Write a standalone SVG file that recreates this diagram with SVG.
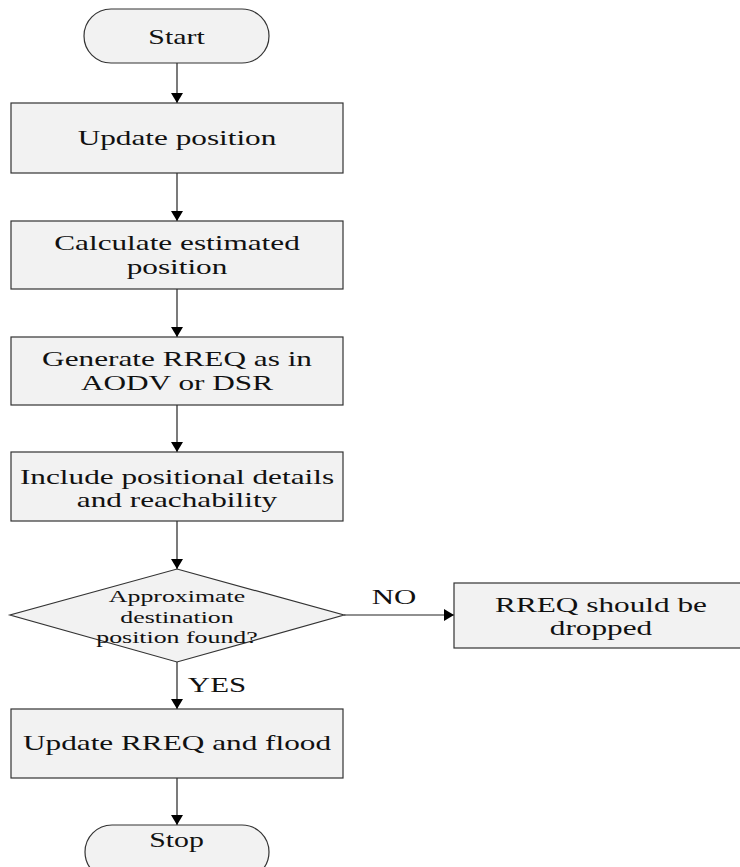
<svg xmlns="http://www.w3.org/2000/svg" width="740" height="867" viewBox="0 0 740 867">
  <style>
    .shape { fill: #f2f2f2; stroke: #333333; stroke-width: 1.2; }
    .edge { fill: none; stroke: #222222; stroke-width: 1.2; }
    .t { font-family: "Liberation Serif", "Times New Roman", serif; font-size: 20.3px; fill: #111111; text-anchor: middle; }
    .s { font-size: 17px; }
  </style>
  <defs>
    <marker id="arrow" markerUnits="userSpaceOnUse" markerWidth="10" markerHeight="12" refX="10" refY="6" orient="auto">
      <path d="M0,0 L10,6 L0,12 z" fill="#000000"/>
    </marker>
  </defs>
  <rect width="740" height="867" fill="#ffffff"/>

  <g id="connectors">
    <line class="edge" x1="177" y1="63" x2="177" y2="103" marker-end="url(#arrow)"/>
    <line class="edge" x1="177" y1="173" x2="177" y2="221" marker-end="url(#arrow)"/>
    <line class="edge" x1="177" y1="289" x2="177" y2="337" marker-end="url(#arrow)"/>
    <line class="edge" x1="177" y1="405" x2="177" y2="452" marker-end="url(#arrow)"/>
    <line class="edge" x1="177" y1="521" x2="177" y2="569" marker-end="url(#arrow)"/>
    <line class="edge" x1="344" y1="615" x2="454" y2="615" marker-end="url(#arrow)"/>
    <line class="edge" x1="177" y1="662" x2="177" y2="709" marker-end="url(#arrow)"/>
    <line class="edge" x1="177" y1="778" x2="177" y2="825" marker-end="url(#arrow)"/>
    <text class="t" transform="translate(394,604) scale(1.52,1)">NO</text>
    <text class="t" transform="translate(217,692) scale(1.52,1)">YES</text>
  </g>

  <g id="start">
    <rect class="shape" x="84" y="9" width="185" height="54" rx="27" ry="27"/>
    <text class="t" transform="translate(176.5,43.5) scale(1.47,1)">Start</text>
  </g>

  <g id="update-position">
    <rect class="shape" x="11" y="103" width="332" height="70"/>
    <text class="t" transform="translate(177,144.5) scale(1.54,1)">Update position</text>
  </g>

  <g id="calculate-position">
    <rect class="shape" x="11" y="221" width="332" height="68"/>
    <text class="t" transform="translate(177,250) scale(1.54,1)">Calculate estimated</text>
    <text class="t" transform="translate(177,273.5) scale(1.54,1)">position</text>
  </g>

  <g id="generate-rreq">
    <rect class="shape" x="11" y="337" width="332" height="68"/>
    <text class="t" transform="translate(177,366) scale(1.54,1)">Generate RREQ as in</text>
    <text class="t" transform="translate(177,389.5) scale(1.54,1)">AODV or DSR</text>
  </g>

  <g id="include-details">
    <rect class="shape" x="11" y="452" width="332" height="69"/>
    <text class="t" transform="translate(177,484) scale(1.54,1)">Include positional details</text>
    <text class="t" transform="translate(177,507) scale(1.54,1)">and reachability</text>
  </g>

  <g id="decision">
    <polygon class="shape" points="177,569 344,615 177,662 10,615"/>
    <text class="t s" transform="translate(177,602) scale(1.52,1)">Approximate</text>
    <text class="t s" transform="translate(177,623) scale(1.52,1)">destination</text>
    <text class="t s" transform="translate(177,643) scale(1.52,1)">position found?</text>
  </g>

  <g id="dropped">
    <rect class="shape" x="454" y="583" width="290" height="65"/>
    <text class="t" transform="translate(601,611.5) scale(1.54,1)">RREQ should be</text>
    <text class="t" transform="translate(601,635) scale(1.54,1)">dropped</text>
  </g>

  <g id="update-flood">
    <rect class="shape" x="11" y="709" width="332" height="69"/>
    <text class="t" transform="translate(177,750) scale(1.54,1)">Update RREQ and flood</text>
  </g>

  <g id="stop">
    <rect class="shape" x="85" y="825" width="184" height="54" rx="27" ry="27"/>
    <text class="t" transform="translate(176.5,847) scale(1.47,1)">Stop</text>
  </g>
</svg>
